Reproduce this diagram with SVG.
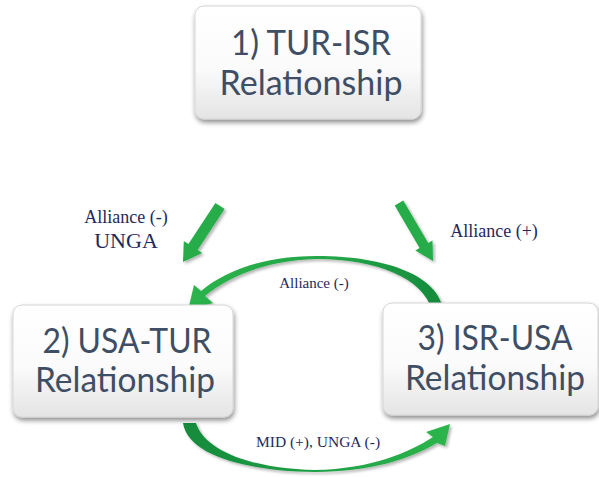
<svg xmlns="http://www.w3.org/2000/svg" width="599" height="477" viewBox="0 0 599 477">
<defs>
<linearGradient id="boxg" x1="0" y1="0" x2="0" y2="1">
<stop offset="0" stop-color="#ffffff"/>
<stop offset="0.55" stop-color="#fbfbfb"/>
<stop offset="1" stop-color="#e4e4e4"/>
</linearGradient>
<linearGradient id="topg" x1="0" y1="0" x2="1" y2="0">
<stop offset="0" stop-color="#2db34c"/>
<stop offset="0.6" stop-color="#22a447"/>
<stop offset="1" stop-color="#168a3c"/>
</linearGradient>
<linearGradient id="botg" x1="0" y1="0" x2="1" y2="0">
<stop offset="0" stop-color="#158a3b"/>
<stop offset="0.5" stop-color="#1fa045"/>
<stop offset="1" stop-color="#2db54c"/>
</linearGradient>
<filter id="sh" x="-20%" y="-20%" width="140%" height="150%">
<feGaussianBlur in="SourceAlpha" stdDeviation="2.5"/>
<feOffset dx="1" dy="3" result="b"/>
<feComponentTransfer><feFuncA type="linear" slope="0.45"/></feComponentTransfer>
<feMerge><feMergeNode/><feMergeNode in="SourceGraphic"/></feMerge>
</filter>
<filter id="ash" x="-30%" y="-30%" width="160%" height="160%">
<feGaussianBlur in="SourceAlpha" stdDeviation="1.5"/>
<feOffset dx="2" dy="2" result="b"/>
<feComponentTransfer><feFuncA type="linear" slope="0.3"/></feComponentTransfer>
<feMerge><feMergeNode/><feMergeNode in="SourceGraphic"/></feMerge>
</filter>
</defs>
<style>
.box{fill:url(#boxg);stroke:#d6d6d6;stroke-width:1;filter:url(#sh)}
.bt{font-family:"Lato","Open Sans","Liberation Sans",sans-serif;font-size:35px;fill:#3e4e64;text-anchor:middle}
.lbl{font-family:"Liberation Serif","Times New Roman",serif;fill:#1e2a5e;text-anchor:middle}
.arr{fill:#25ad4a;filter:url(#ash)}
</style>
<rect width="599" height="477" fill="#ffffff"/>
<g id="connectors">
<polygon class="arr" points="215.4,203 224.6,209 197.6,250 202.2,253 183,262 183.8,241 188.4,244"/>
<polygon class="arr" points="394.7,205.5 403.3,200.5 428.2,243 432.5,240.4 433,261 415.3,250.6 419.6,248"/>
<path fill="url(#topg)" filter="url(#ash)" d="M 443,311 C 440,276 386,256 317,256 C 262,256 224,272 201,291 L 194,285 L 188,310 L 213,303 L 205,296 C 228,277 266,260 317,259 C 376,259 424,278 432,311 Z"/>
<path fill="url(#botg)" filter="url(#ash)" d="M 183,423 C 188,456 248,471 315,472 C 372,472 412,458 437,443 L 445,446 L 450,424 L 426,432 L 433,437 C 410,452 372,469 315,470 C 255,469 205,452 196,423 Z"/>
<text class="lbl" x="126" y="223" font-size="18">Alliance (-)</text>
<text class="lbl" x="126" y="248" font-size="22">UNGA</text>
<text class="lbl" x="494" y="237" font-size="18">Alliance (+)</text>
<text class="lbl" x="314" y="288" font-size="15">Alliance (-)</text>
<text class="lbl" x="318" y="447" font-size="15.5">MID (+), UNGA (-)</text>
</g>
<g id="node1">
<rect class="box" x="195" y="6" width="226" height="113" rx="9"/>
<text class="bt" x="311" y="55" textLength="160" lengthAdjust="spacingAndGlyphs">1) TUR-ISR</text>
<text class="bt" x="311" y="95" textLength="183" lengthAdjust="spacingAndGlyphs">Relationship</text>
</g>
<g id="node2">
<rect class="box" x="13" y="305" width="220" height="112" rx="9"/>
<text class="bt" x="127" y="353" textLength="169" lengthAdjust="spacingAndGlyphs">2) USA-TUR</text>
<text class="bt" x="125" y="392" textLength="180" lengthAdjust="spacingAndGlyphs">Relationship</text>
</g>
<g id="node3">
<rect class="box" x="383" y="303" width="215" height="112" rx="9"/>
<text class="bt" x="495" y="350" textLength="155" lengthAdjust="spacingAndGlyphs">3) ISR-USA</text>
<text class="bt" x="495" y="390" textLength="180" lengthAdjust="spacingAndGlyphs">Relationship</text>
</g>
</svg>
